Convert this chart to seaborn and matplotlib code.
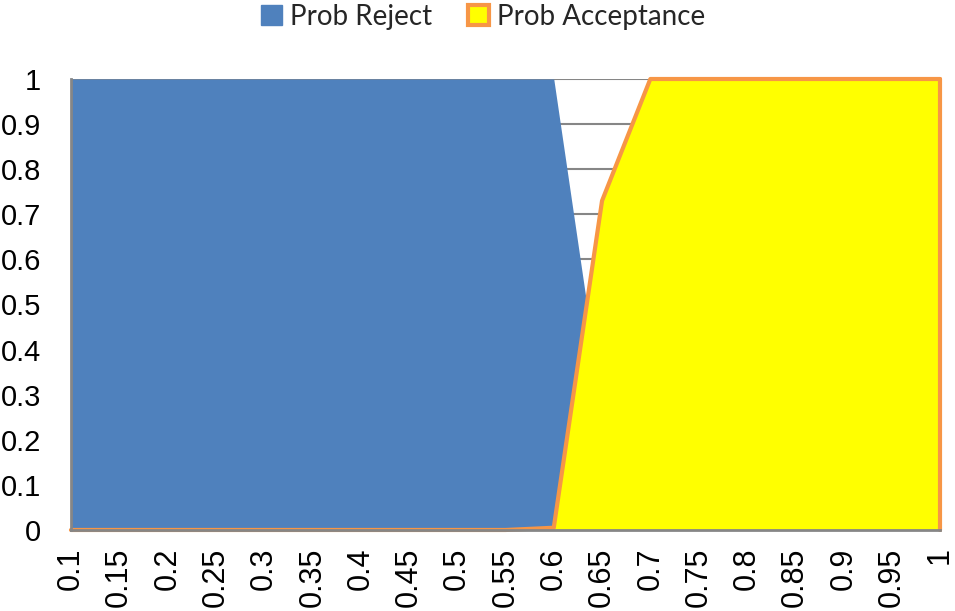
import matplotlib
matplotlib.use("Agg")
import matplotlib.pyplot as plt
import seaborn as sns
import pandas as pd
from matplotlib.patches import Patch

# Data
x_values = [0.1, 0.15, 0.2, 0.25, 0.3, 0.35, 0.4, 0.45, 0.5, 0.55,
            0.6, 0.65, 0.7, 0.75, 0.8, 0.85, 0.9, 0.95, 1.0]
x_labels = ["0.1", "0.15", "0.2", "0.25", "0.3", "0.35", "0.4", "0.45", "0.5", "0.55",
            "0.6", "0.65", "0.7", "0.75", "0.8", "0.85", "0.9", "0.95", "1"]
prob_reject = [1, 1, 1, 1, 1, 1, 1, 1, 1, 1,
               1, 0.27, 0, 0, 0, 0, 0, 0, 0]
prob_accept = [0, 0, 0, 0, 0, 0, 0, 0, 0, 0,
               0.005, 0.73, 1, 1, 1, 1, 1, 1, 1]
y_ticks = [0, 0.1, 0.2, 0.3, 0.4, 0.5, 0.6, 0.7, 0.8, 0.9, 1]
y_labels = ["0", "0.1", "0.2", "0.3", "0.4", "0.5", "0.6", "0.7", "0.8", "0.9", "1"]

df = pd.DataFrame({"x": x_values, "reject": prob_reject, "accept": prob_accept})

sns.set_theme(style="white")
plt.rcParams["font.family"] = ["Liberation Sans", "DejaVu Sans"]

BLUE = "#4f81bd"
YELLOW = "#ffff00"
ORANGE = "#f79646"
GREY = "#868686"

fig = plt.figure(figsize=(9.55, 6.11), dpi=100)
ax = fig.add_axes([0.0743, 0.1326, 0.91, 0.7381])

for yt in y_ticks[1:]:
    ax.axhline(yt, color=GREY, lw=1.5, zorder=0)

ax.fill_between(df["x"], 0, df["reject"], color=BLUE, lw=0, zorder=1)
ax.fill_between(df["x"], 0, df["accept"], color=YELLOW, lw=0, zorder=2)
sns.lineplot(data=df, x="x", y="accept", color=ORANGE, lw=3, ax=ax, zorder=3,
             clip_on=False)
# closing edge of the yellow area
ax.plot([df["x"].iloc[-1], df["x"].iloc[-1]], [0, df["accept"].iloc[-1]],
        color=ORANGE, lw=3, zorder=3, clip_on=False)

ax.set_xlim(x_values[0], x_values[-1])
ax.set_ylim(0, 1)
ax.set_xticks(x_values)
ax.set_xticklabels(x_labels, rotation=90, fontsize=22)
ax.set_yticks(y_ticks)
ax.set_yticklabels(y_labels, fontsize=21)
ax.set_xlabel("")
ax.set_ylabel("")

for side in ["top", "right"]:
    ax.spines[side].set_visible(False)
for side in ["left", "bottom"]:
    ax.spines[side].set_color(GREY)
    ax.spines[side].set_linewidth(2)
    ax.spines[side].set_zorder(4)
ax.tick_params(axis="both", which="both", direction="out", length=6.5, width=2,
               color=GREY, labelcolor="black")
ax.tick_params(axis="y", pad=15)
ax.tick_params(axis="x", pad=6)

handles = [Patch(facecolor=BLUE, edgecolor=BLUE, label="Prob Reject"),
           Patch(facecolor=YELLOW, edgecolor=ORANGE, linewidth=3, label="Prob Acceptance")]
fig.legend(handles=handles, loc="upper center", bbox_to_anchor=(0.506, 1.035), ncol=2,
           frameon=False, handlelength=0.75, handleheight=0.75,
           handletextpad=0.3, columnspacing=1.3, prop={"family": "Lato", "size": 20})

fig.savefig("out.png", dpi=100)
